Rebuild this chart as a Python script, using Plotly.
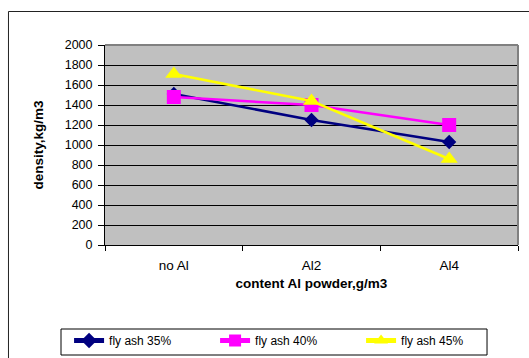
import plotly.graph_objects as go

categories = ["no Al", "Al2", "Al4"]
fly_ash_35 = [1510, 1250, 1030]
fly_ash_40 = [1480, 1400, 1200]
fly_ash_45 = [1710, 1440, 860]
y_ticks = list(range(0, 2001, 200))

FONT = "Liberation Sans, Arial, sans-serif"

fig = go.Figure()
series = [
    ("fly ash 35%", fly_ash_35, "#000080", "diamond", 11),
    ("fly ash 40%", fly_ash_40, "#FF00FF", "square", 14),
    ("fly ash 45%", fly_ash_45, "#FFFF00", "triangle-up", 15),
]
for name, vals, color, sym, size in series:
    fig.add_trace(go.Scatter(
        x=categories, y=vals, name=name, mode="lines+markers",
        line=dict(color=color, width=2.5),
        marker=dict(symbol=sym, size=size, color=color, line=dict(width=0)),
    ))

fig.update_layout(
    width=529, height=358,
    margin=dict(l=105, r=11, t=45, b=113, autoexpand=False),
    paper_bgcolor="white",
    plot_bgcolor="#C0C0C0",
    font=dict(family=FONT, size=12, color="black"),
    showlegend=True,
    legend=dict(
        orientation="h", x=-0.087, y=-0.405, xanchor="left", yanchor="top",
        borderwidth=0, bgcolor="rgba(0,0,0,0)",
        font=dict(size=12), entrywidth=101, entrywidthmode="pixels",
        itemsizing="constant",
    ),
    xaxis=dict(
        type="category", tickson="boundaries", ticks="outside", ticklen=5,
        tickcolor="black", showline=True, linecolor="black", linewidth=1,
        showgrid=False, zeroline=False, range=[-0.5, 2.5],
        tickfont=dict(size=13.5), ticklabelstandoff=8,
        title=dict(text="<b>content Al powder,g/m3</b>", font=dict(size=13.5), standoff=6),
    ),
    yaxis=dict(
        range=[0, 2000], tickvals=y_ticks, ticks="outside", ticklen=6,
        tickcolor="black", showline=True, linecolor="black", linewidth=1,
        showgrid=True, gridcolor="black", gridwidth=1, zeroline=False,
        tickfont=dict(size=12.5), ticklabelstandoff=3,
        title=dict(text="<b>density,kg/m3</b>", font=dict(size=13.5), standoff=17),
    ),
    shapes=[
        # outer chart frame
        dict(type="rect", xref="paper", yref="paper",
             x0=-0.2337, x1=2, y0=-2, y1=1.1675,
             line=dict(color="#222222", width=1), layer="below"),
        # legend frame
        dict(type="rect", xref="paper", yref="paper",
             x0=-0.1065, x1=0.925, y0=-0.55, y1=-0.42,
             line=dict(color="black", width=1), fillcolor="white", layer="below"),
        # gray plot-area edges on top and right
        dict(type="line", xref="paper", yref="paper", x0=0, x1=1, y0=1, y1=1,
             line=dict(color="#808080", width=2)),
        dict(type="line", xref="paper", yref="paper", x0=1, x1=1, y0=0, y1=1,
             line=dict(color="#808080", width=2)),
    ],
)

fig.write_html("out.html")
